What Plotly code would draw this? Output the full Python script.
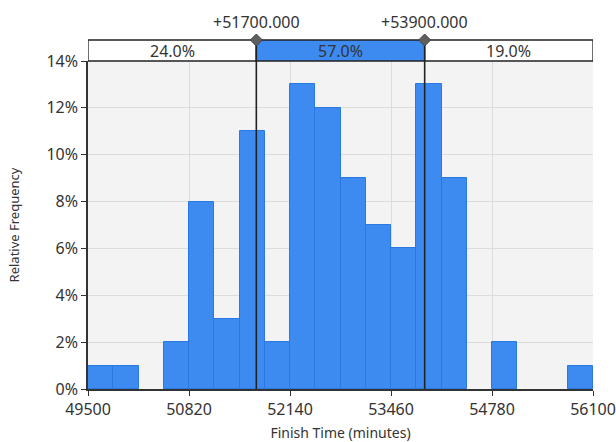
import plotly.graph_objects as go

bin_starts = [49500, 49830, 50160, 50490, 50820, 51150, 51480, 51810, 52140, 52470,
              52800, 53130, 53460, 53790, 54120, 54450, 54780, 55110, 55440, 55770]
rel_freq = [1, 1, 0, 2, 8, 3, 11, 2, 13, 12, 9, 7, 6, 13, 9, 0, 2, 0, 0, 1]
bin_width = 330
x_ticks = [49500, 50820, 52140, 53460, 54780, 56100]
y_ticks = [0, 2, 4, 6, 8, 10, 12, 14]
markers = [51700, 53900]
marker_labels = ["+51700.000", "+53900.000"]
segment_pcts = ["24.0%", "57.0%", "19.0%"]

xmin, xmax = 49500, 56100
ymax = 14
blue = "#3d8bf0"
font = "Noto Sans"

band_h = 21 / 328

fig = go.Figure()
fig.add_trace(go.Bar(
    x=[s + bin_width / 2 for s in bin_starts], y=rel_freq, width=bin_width,
    marker=dict(color=blue, line=dict(color="#2a78e4",
                                      width=[0 if v == 0 else 1 for v in rel_freq])),
    hoverinfo="skip"))

segs = [xmin] + markers + [xmax]
fills = ["white", blue, "white"]
for i in range(3):
    fig.add_shape(type="rect", xref="x", yref="paper", x0=segs[i], x1=segs[i + 1],
                  y0=1, y1=1 + band_h, fillcolor=fills[i],
                  line=dict(color="#222222", width=1.3), layer="above")
    fig.add_annotation(x=(segs[i] + segs[i + 1]) / 2, y=1 + band_h / 2, xref="x", yref="paper",
                       text=segment_pcts[i], showarrow=False, yanchor="middle", xanchor="center",
                       font=dict(family=font, size=16, color="#333333"))

for m, lab in zip(markers, marker_labels):
    fig.add_shape(type="line", xref="x", yref="paper", x0=m, x1=m, y0=0, y1=1 + band_h,
                  line=dict(color="#222222", width=1.6), layer="above")
    fig.add_shape(type="path", xref="x", yref="paper", xsizemode="pixel", ysizemode="pixel",
                  xanchor=m, yanchor=1 + band_h, path="M -6 0 L 0 6 L 6 0 L 0 -6 Z",
                  fillcolor="#5f5f5f", line=dict(color="#444444", width=1), layer="above")
    fig.add_annotation(x=m, y=1 + band_h, xref="x", yref="paper", text=lab, showarrow=False,
                       yanchor="bottom", xanchor="center", yshift=5,
                       font=dict(family=font, size=16, color="#333333"))

fig.update_layout(
    width=616, height=442,
    margin=dict(l=88, r=23, t=61, b=53),
    paper_bgcolor="white", plot_bgcolor="#f3f3f3",
    showlegend=False, bargap=0,
    font=dict(family=font, color="#333333"),
    xaxis=dict(range=[xmin, xmax], tickvals=x_ticks, ticktext=[str(v) for v in x_ticks],
               showgrid=True, gridcolor="#dcdcdc", gridwidth=1, zeroline=False,
               showline=True, linecolor="#333333", linewidth=1.5,
               ticks="outside", ticklen=5, tickcolor="#333333", automargin=False,
               tickfont=dict(size=16, family=font, color="#333333"),
               title=dict(text="Finish Time (minutes)", font=dict(size=14, family=font, color="#333333"), standoff=10)),
    yaxis=dict(range=[0, ymax], tickvals=y_ticks, ticktext=[f"{v}%" for v in y_ticks],
               showgrid=True, gridcolor="#dcdcdc", gridwidth=1, zeroline=False,
               showline=True, linecolor="#333333", linewidth=1.5,
               ticks="outside", ticklen=5, tickcolor="#333333", automargin=False,
               tickfont=dict(size=16, family=font, color="#333333"),
               title=dict(text="Relative Frequency", font=dict(size=13, family=font, color="#333333"), standoff=24)),
)

fig.write_html("out.html", config={"displayModeBar": False},
               post_script="document.body.style.margin='0px';document.body.style.overflow='hidden';")
